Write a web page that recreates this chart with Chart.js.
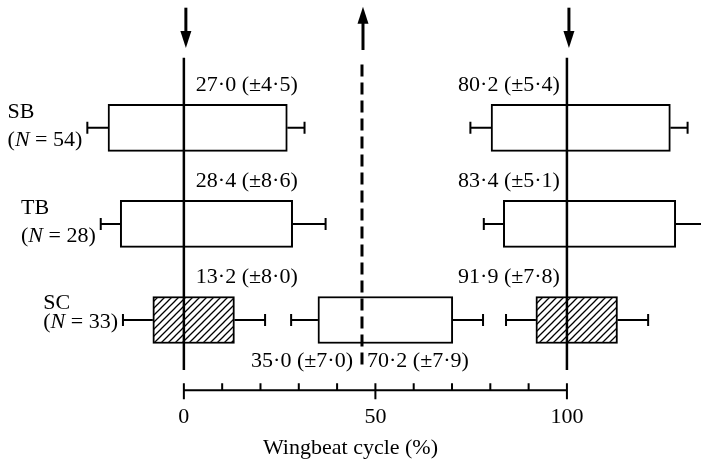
<!DOCTYPE html>
<html lang="en">
<head>
<meta charset="UTF-8">
<title>Wingbeat cycle</title>
<script src="https://cdn.jsdelivr.net/npm/chart.js"></script>
<style>
  html, body { margin: 0; padding: 0; background: #fff; }
</style>
</head>
<body>
<canvas id="myChart" width="701" height="464"></canvas>
<script>
// rows and sample sizes
var rowNames = ['SB', 'TB', 'SC'];
var rowN = [54, 28, 33];
var rowPos = [2, 1, 0];

// bursts: onset / offset (% of wingbeat cycle) with SD
var burstRow = [0, 1, 2, 2];
var onsetMean = [80.2, 83.4, 91.9, 35.0];
var onsetSD = [5.4, 5.1, 7.8, 7.0];
var offsetMean = [27.0, 28.4, 13.2, 70.2];
var offsetSD = [4.5, 8.6, 8.0, 7.9];
var hatchedBurst = [false, false, true, false];

// markers
var downArrowAt = [0, 100];
var upArrowAt = 46.5;

var tickValues = [0, 50, 100];
var axisTitle = 'Wingbeat cycle (%)';

var FONT = 'Liberation Serif';

function fmt(v) { return v.toFixed(1).replace('.', '\u00b7'); }

// split bursts that wrap round the cycle into two boxes
var segs = [];
onsetMean.forEach(function(on, i) {
  var off = offsetMean[i];
  if (on > off) {
    segs.push({s: on - 100, e: off, b: i});
    segs.push({s: on, e: off + 100, b: i});
  } else {
    segs.push({s: on, e: off, b: i});
  }
});

// hatch pattern
var pc = document.createElement('canvas');
pc.width = 7; pc.height = 7;
var pctx = pc.getContext('2d');
pctx.fillStyle = '#fff';
pctx.fillRect(0, 0, 7, 7);
pctx.strokeStyle = '#000';
pctx.lineWidth = 1.3;
pctx.beginPath();
pctx.moveTo(-1, 8); pctx.lineTo(8, -1);
pctx.moveTo(-1, 1); pctx.lineTo(1, -1);
pctx.moveTo(6, 8); pctx.lineTo(8, 6);
pctx.stroke();
var ctx = document.getElementById('myChart').getContext('2d');
var hatch = ctx.createPattern(pc, 'repeat');

function segData(wantHatch) {
  return segs.filter(function(g) { return hatchedBurst[g.b] === wantHatch; })
    .map(function(g) { return {x: [g.s, g.e], y: rowPos[burstRow[g.b]]}; });
}

function arrow(c, x, yTail, yHead) {
  var dir = yHead > yTail ? 1 : -1;
  c.beginPath();
  c.lineWidth = 3;
  c.moveTo(x, yTail);
  c.lineTo(x, yHead - dir * 14);
  c.stroke();
  c.beginPath();
  c.moveTo(x, yHead);
  c.lineTo(x - 5.5, yHead - dir * 17);
  c.lineTo(x + 5.5, yHead - dir * 17);
  c.closePath();
  c.fill();
}

var decor = {
  id: 'decor',
  afterDatasetsDraw: function(chart) {
    var c = chart.ctx, xs = chart.scales.x, ys = chart.scales.y;
    var half = 47 / 2;
    c.save();
    c.strokeStyle = '#000';
    c.fillStyle = '#000';

    // whiskers
    c.lineWidth = 2;
    segs.forEach(function(g) {
      var yc = ys.getPixelForValue(rowPos[burstRow[g.b]]);
      var pairs = [[g.s, g.s - onsetSD[g.b]], [g.e, g.e + offsetSD[g.b]]];
      pairs.forEach(function(p) {
        var a = xs.getPixelForValue(p[0]), b = xs.getPixelForValue(p[1]);
        c.beginPath();
        c.moveTo(a, yc); c.lineTo(b, yc);
        c.moveTo(b, yc - 6); c.lineTo(b, yc + 6);
        c.stroke();
      });
    });

    // solid lines with down arrows
    downArrowAt.forEach(function(v) {
      var x = xs.getPixelForValue(v);
      c.beginPath();
      c.lineWidth = 2.5;
      c.moveTo(x, ys.getPixelForValue(2.73));
      c.lineTo(x, ys.getPixelForValue(-0.52));
      c.stroke();
      arrow(c, x + 2, ys.getPixelForValue(3.25), ys.getPixelForValue(2.83));
    });

    // dashed line with up arrow
    var xd = xs.getPixelForValue(upArrowAt);
    c.beginPath();
    c.lineWidth = 3;
    c.setLineDash([12, 6]);
    c.moveTo(xd, ys.getPixelForValue(2.66));
    c.lineTo(xd, ys.getPixelForValue(-0.49));
    c.stroke();
    c.setLineDash([]);
    arrow(c, xd + 1, ys.getPixelForValue(2.81), ys.getPixelForValue(3.26));

    // value labels
    c.font = '22px "' + FONT + '"';
    c.textBaseline = 'middle';
    onsetMean.forEach(function(on, i) {
      var yc = ys.getPixelForValue(rowPos[burstRow[i]]);
      var onTxt = fmt(on) + ' (\u00b1' + fmt(onsetSD[i]) + ')';
      var offTxt = fmt(offsetMean[i]) + ' (\u00b1' + fmt(offsetSD[i]) + ')';
      if (on > offsetMean[i]) {
        var yt = yc - half - 19;
        c.textAlign = 'left';
        c.fillText(offTxt, xs.getPixelForValue(0) + 12, yt);
        c.textAlign = 'right';
        c.fillText(onTxt, xs.getPixelForValue(100) - 7, yt);
      } else {
        var yb = yc + half + 18;
        c.textAlign = 'right';
        c.fillText(onTxt, xd - 9, yb);
        c.textAlign = 'left';
        c.fillText(offTxt, xd + 5, yb);
      }
    });

    // row labels
    var nameDy = [-16, -16, -17], nDy = [12, 12, 2];
    rowNames.forEach(function(name, r) {
      var yc = ys.getPixelForValue(rowPos[r]);
      var minW = Infinity;
      segs.forEach(function(g) {
        if (burstRow[g.b] === r) minW = Math.min(minW, g.s - onsetSD[g.b]);
      });
      var right = xs.getPixelForValue(minW) - 5;
      c.font = '22px "' + FONT + '"';
      var p1 = '(', p3 = ' = ' + rowN[r] + ')';
      var w1 = c.measureText(p1).width, w3 = c.measureText(p3).width;
      c.font = 'italic 22px "' + FONT + '"';
      var w2 = c.measureText('N').width;
      var left = right - (w1 + w2 + w3);
      c.textAlign = 'left';
      c.font = '22px "' + FONT + '"';
      c.fillText(name, left, yc + nameDy[r]);
      c.fillText(p1, left, yc + nDy[r]);
      c.fillText(p3, left + w1 + w2, yc + nDy[r]);
      c.font = 'italic 22px "' + FONT + '"';
      c.fillText('N', left + w1, yc + nDy[r]);
    });
    c.restore();
  },
  afterDraw: function(chart) {
    var c = chart.ctx, xs = chart.scales.x;
    var y = chart.chartArea.bottom;
    c.save();
    c.strokeStyle = '#000';
    c.lineWidth = 2;
    c.beginPath();
    c.moveTo(xs.getPixelForValue(0), y);
    c.lineTo(xs.getPixelForValue(100), y);
    for (var v = 0; v <= 100; v += 10) {
      var x = xs.getPixelForValue(v);
      var major = tickValues.indexOf(v) >= 0;
      c.moveTo(x, y - 7);
      c.lineTo(x, major ? y + 9 : y);
    }
    c.stroke();
    c.restore();
  }
};

new Chart(ctx, {
  type: 'bar',
  data: {
    datasets: [{
      data: segData(false),
      backgroundColor: '#fff',
      borderColor: '#000',
      borderWidth: 2,
      borderSkipped: false,
      barThickness: 47,
      grouped: false
    }, {
      data: segData(true),
      backgroundColor: hatch,
      borderColor: '#000',
      borderWidth: 2,
      borderSkipped: false,
      barThickness: 47,
      grouped: false
    }]
  },
  options: {
    responsive: false,
    animation: false,
    indexAxis: 'y',
    layout: { padding: 0 },
    plugins: { legend: { display: false }, tooltip: { enabled: false } },
    scales: {
      x: {
        type: 'linear',
        min: -48,
        max: 135,
        grid: { display: false, drawTicks: false },
        border: { display: false },
        afterBuildTicks: function(s) {
          s.ticks = tickValues.map(function(v) { return {value: v}; });
        },
        ticks: {
          padding: 14,
          color: '#000',
          autoSkip: false,
          maxRotation: 0,
          font: { family: FONT, size: 22 }
        },
        title: {
          display: true,
          text: axisTitle,
          color: '#000',
          font: { family: FONT, size: 22 },
          padding: { top: -10, bottom: 3 }
        }
      },
      y: { type: 'linear', display: false, offset: false, min: -0.73, max: 3.33 }
    }
  },
  plugins: [decor]
});
</script>
</body>
</html>
